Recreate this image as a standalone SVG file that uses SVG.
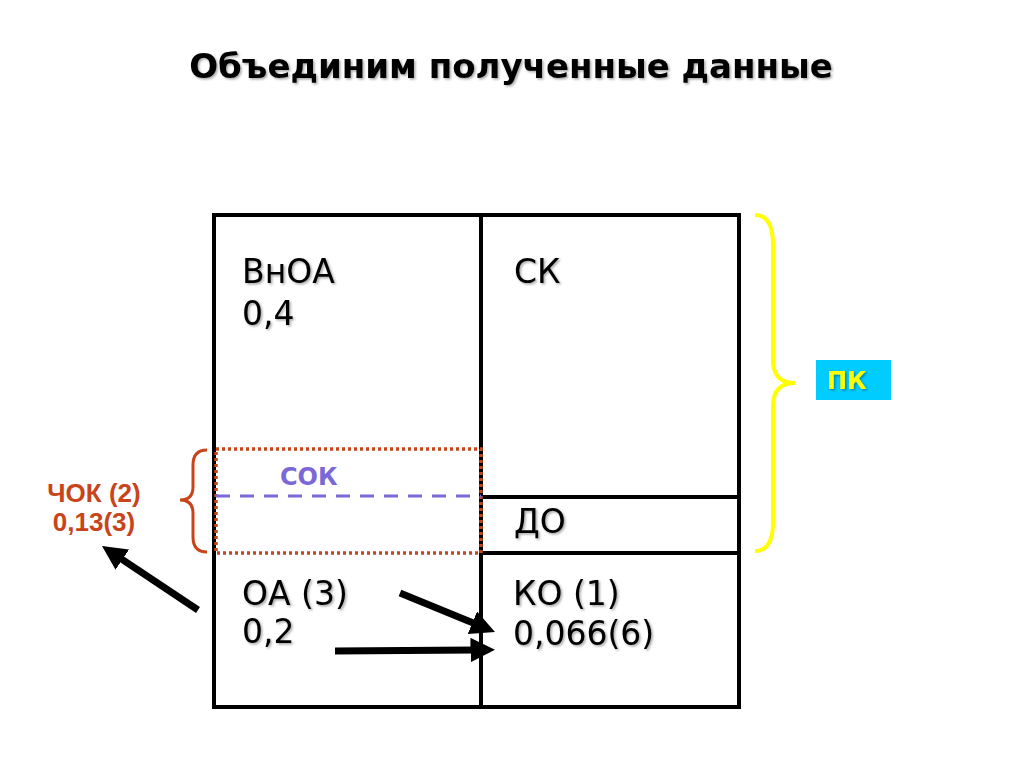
<svg xmlns="http://www.w3.org/2000/svg" width="1024" height="768" viewBox="0 0 1024 768">
<style>
  .t { font-family: "DejaVu Sans", "Liberation Sans", sans-serif; }
  .cell { font-size: 33px; fill: #000; filter: url(#sh); }
  .red { font-family: "Liberation Sans", Arial, sans-serif; font-size: 26px; font-weight: bold; fill: #c8441a; }
  .grid { stroke: #000; stroke-width: 4; fill: none; }
  .arr { stroke: #000; stroke-width: 7; fill: none; marker-end: url(#ah); }
</style>
<defs>
  <filter id="sh" x="-10%" y="-10%" width="130%" height="140%">
    <feDropShadow dx="1.5" dy="1.5" stdDeviation="1" flood-color="#000" flood-opacity="0.35"/>
  </filter>
  <marker id="ah" viewBox="0 0 10 10" refX="2" refY="5" markerWidth="3.5" markerHeight="3.5" orient="auto" markerUnits="strokeWidth">
    <path d="M0,0 L10,5 L0,10 z" fill="#000"/>
  </marker>
</defs>
<rect width="1024" height="768" fill="#fff"/>
<text class="t" x="511" y="78" text-anchor="middle" font-size="34" font-weight="bold" fill="#000" filter="url(#sh)">Объединим полученные данные</text>

<g id="grid">
  <rect class="grid" x="214" y="215" width="525" height="492"/>
  <line class="grid" x1="481" y1="215" x2="481" y2="707"/>
  <line class="grid" x1="481" y1="497" x2="739" y2="497"/>
  <line class="grid" x1="481" y1="553" x2="739" y2="553"/>
</g>

<g id="chok-area">
  <rect x="216" y="449" width="265" height="104" fill="none" stroke="#c8441a" stroke-width="3.5" stroke-dasharray="3 3"/>
  <line x1="216" y1="496" x2="481" y2="496" stroke="#7b68d8" stroke-width="3" stroke-dasharray="14 10"/>
  <text class="t" x="280" y="485" font-size="24" font-weight="bold" fill="#7b68d8">СОК</text>
</g>

<g id="vnoa"><text class="t cell" x="242" y="283">ВнОА</text><text class="t cell" x="242" y="325">0,4</text></g>
<g id="sk"><text class="t cell" x="514" y="283">СК</text></g>
<g id="do"><text class="t cell" x="514" y="533">ДО</text></g>
<g id="oa"><text class="t cell" x="242" y="605">ОА (3)</text><text class="t cell" x="242" y="643">0,2</text></g>
<g id="ko"><text class="t cell" x="513" y="605">КО (1)</text><text class="t cell" x="513" y="645">0,066(6)</text></g>

<g id="chok">
  <path d="M207,450 Q193,450 193,465 L193,487 Q193,500 180,500 Q193,500 193,513 L193,537 Q193,552 207,552" fill="none" stroke="#c8441a" stroke-width="3"/>
  <text class="red" x="94" y="502" text-anchor="middle">ЧОК (2)</text>
  <text class="red" x="94" y="531" text-anchor="middle">0,13(3)</text>
</g>

<g id="pk">
  <path d="M755,215 Q773,215 773,245 L773,360 Q773,383 795,383 Q773,383 773,406 L773,522 Q773,551 755,551" fill="none" stroke="#ffff00" stroke-width="4"/>
  <rect x="816" y="360" width="75" height="40" fill="#00ccff"/>
  <text class="t" x="827" y="389" font-size="24" font-weight="bold" fill="#ffff00" filter="url(#sh)">ПК</text>
</g>

<g id="connectors">
  <line class="arr" x1="198" y1="610" x2="118.3" y2="556.9"/>
  <line class="arr" x1="400" y1="593" x2="476.9" y2="624.6"/>
  <line class="arr" x1="335" y1="651" x2="475.4" y2="650"/>
</g>
</svg>
